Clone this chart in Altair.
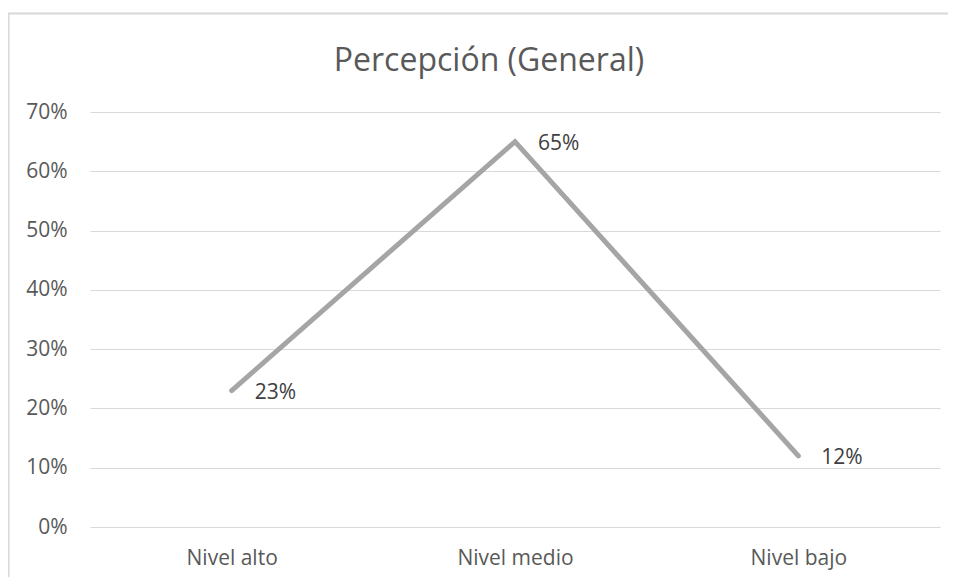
import altair as alt
import pandas as pd

categories = ["Nivel alto", "Nivel medio", "Nivel bajo"]
values = [0.23, 0.65, 0.12]
labels = ["23%", "65%", "12%"]

df = pd.DataFrame({"nivel": categories, "valor": values, "etiqueta": labels})

FONT = "Open Sans"
GRAY = "#595959"

x = alt.X("nivel:N", sort=categories, title=None,
          scale=alt.Scale(paddingInner=0, paddingOuter=0),
          axis=alt.Axis(labelAngle=0, labelFontSize=21, labelColor=GRAY, labelFont=FONT,
                        labelPadding=20, ticks=False, domain=False, grid=False))
y = alt.Y("valor:Q", title=None,
          scale=alt.Scale(domain=[0, 0.7], nice=False),
          axis=alt.Axis(format=".0%", values=[0, 0.1, 0.2, 0.3, 0.4, 0.5, 0.6, 0.7],
                        labelFontSize=21, labelColor=GRAY, labelFont=FONT,
                        labelPadding=23, ticks=False, domain=False,
                        grid=True, gridColor="#d9d9d9", gridWidth=1.2))

border = alt.Chart(df).mark_rect(fill=None, stroke="#d9d9d9", strokeWidth=1.5).encode(
    x=alt.value(-81.5), x2=alt.value(900), y=alt.value(-98.5), y2=alt.value(600)
)

line = alt.Chart(df).mark_line(color="#a5a5a5", strokeWidth=5, strokeCap="round",
                               strokeJoin="miter").encode(x=x, y=y)

text = alt.Chart(df).mark_text(align="left", baseline="middle", dx=23, dy=2,
                               fontSize=21, font=FONT, color="#404040").encode(
    x=alt.X("nivel:N", sort=categories), y="valor:Q", text="etiqueta:N"
)

chart = alt.layer(border, line, text).properties(
    width=850, height=415,
    background="white",
    title=alt.TitleParams("Percepción (General)", fontSize=32, font=FONT, color=GRAY,
                          fontWeight="normal", offset=0, dy=65, anchor="middle",
                          frame="group", dx=-26),
    autosize=alt.AutoSizeParams(type="none"),
    padding={"left": 82, "top": 104, "right": 8, "bottom": 50},
).configure_view(strokeWidth=0, stroke="transparent")

chart.save("out.html", embed_options={"renderer": "svg", "actions": False})
